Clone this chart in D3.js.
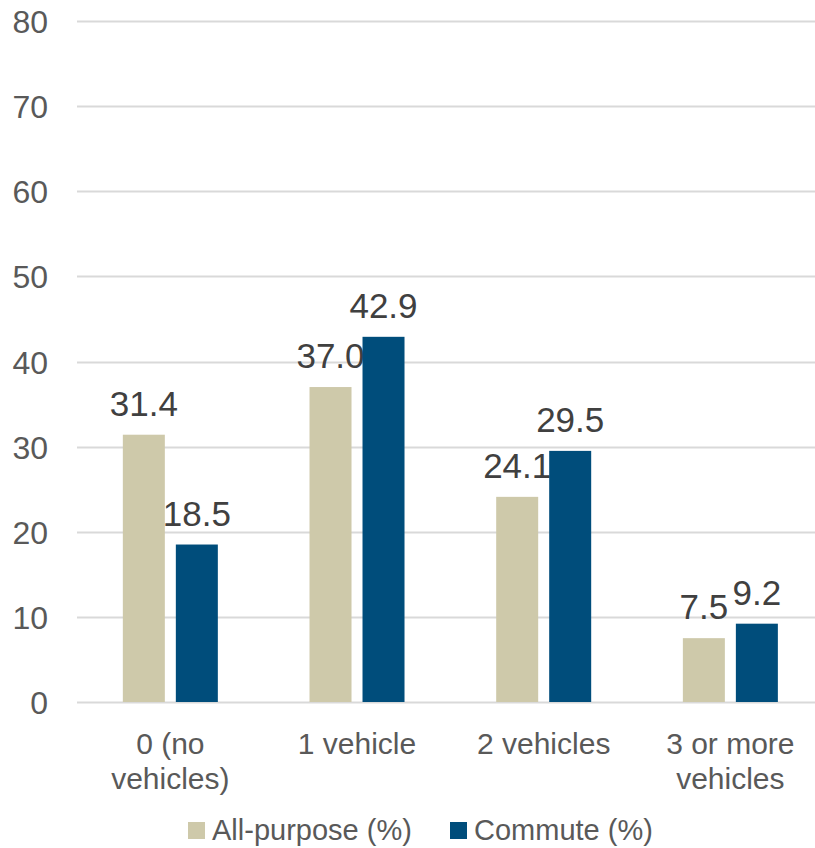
<!DOCTYPE html>
<html><head><meta charset="utf-8">
<script src="https://cdn.jsdelivr.net/npm/d3@7/dist/d3.min.js"></script>
<style>body{margin:0;background:#fff;}svg{display:block;}</style>
</head><body>
<svg id="c" width="815" height="848"></svg>
<script>
const categories = [["0 (no","vehicles)"],["1 vehicle"],["2 vehicles"],["3 or more","vehicles"]];
const seriesNames = ["All-purpose (%)","Commute (%)"];
const allPurpose = [31.4, 37.0, 24.1, 7.5];
const commute = [18.5, 42.9, 29.5, 9.2];
const yTicks = [0,10,20,30,40,50,60,70,80];
const colors = ["#CEC9AA","#004D7B"];

const svg = d3.select("#c");
const font = "'Liberation Sans', Arial, sans-serif";
const left = 77, right = 823.7, y0px = 702, ytop = 21;
const x = d3.scaleBand().domain(d3.range(categories.length)).range([left, right]).paddingInner(0).paddingOuter(0);
const y = d3.scaleLinear().domain([0,80]).range([y0px, ytop]);
const barW = 42, gap = 11;

// gridlines
svg.append("g").selectAll("line").data(yTicks).join("line")
  .attr("x1", left).attr("x2", 815).attr("y1", d=>Math.round(y(d))+0.5).attr("y2", d=>Math.round(y(d))+0.5)
  .attr("stroke", "#D9D9D9").attr("stroke-width", 2);

// y axis labels
const yAxis = d3.axisLeft(y).tickValues(yTicks).tickSize(0).tickPadding(0);
const ga = svg.append("g").attr("transform", "translate(48,0)").call(yAxis);
ga.select(".domain").remove();
ga.selectAll("text").attr("font-family", font).attr("font-size", 32).attr("fill", "#595959").attr("dy", "0.36em");

const series = [allPurpose, commute];
series.forEach((vals, si) => {
  const cx = i => x(i) + x.bandwidth()/2;
  const bx = i => si === 0 ? cx(i) - gap/2 - barW : cx(i) + gap/2;
  svg.append("g").selectAll("rect").data(vals).join("rect")
    .attr("x", (d,i)=>bx(i)).attr("width", barW)
    .attr("y", d=>y(d)).attr("height", d=>y0px - y(d))
    .attr("fill", colors[si]);
  svg.append("g").selectAll("text").data(vals).join("text")
    .attr("x", (d,i)=>bx(i)+barW/2).attr("y", d=>y(d)-19)
    .attr("text-anchor","middle").attr("font-family", font).attr("font-size", 35)
    .attr("fill","#404040").text(d=>d.toFixed(1));
});

// category labels
const cg = svg.append("g");
categories.forEach((lines, i) => {
  const t = cg.append("text").attr("x", x(i)+x.bandwidth()/2).attr("y", 754)
    .attr("text-anchor","middle").attr("font-family", font).attr("font-size", 30).attr("fill","#595959");
  lines.forEach((ln, k) => t.append("tspan").attr("x", x(i)+x.bandwidth()/2).attr("dy", k===0?0:35).text(ln));
});

// legend
const legendX = [188, 450];
seriesNames.forEach((n, i) => {
  svg.append("rect").attr("x", legendX[i]).attr("y", 822).attr("width", 17).attr("height", 17).attr("fill", colors[i]);
  svg.append("text").attr("x", legendX[i]+24).attr("y", 840).attr("font-family", font).attr("font-size", 29)
    .attr("fill","#595959").text(n);
});
</script>
</body></html>
